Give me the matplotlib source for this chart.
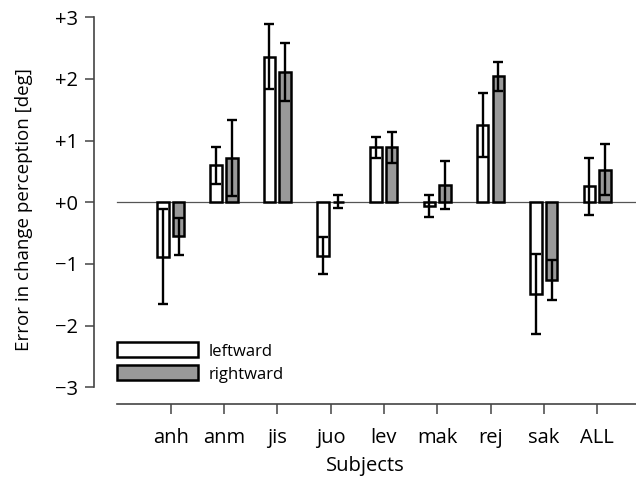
import matplotlib
matplotlib.use("Agg")
import matplotlib.pyplot as plt
import numpy as np

subjects = ["anh", "anm", "jis", "juo", "lev", "mak", "rej", "sak", "ALL"]
left_mean = [-0.88, 0.60, 2.36, -0.87, 0.89, -0.06, 1.25, -1.49, 0.26]
left_sd = [0.77, 0.30, 0.53, 0.30, 0.17, 0.18, 0.52, 0.65, 0.46]
right_mean = [-0.55, 0.72, 2.11, 0.01, 0.89, 0.28, 2.04, -1.26, 0.53]
right_sd = [0.30, 0.62, 0.47, 0.11, 0.25, 0.39, 0.24, 0.33, 0.41]
series_names = ["leftward", "rightward"]
yticks = [3, 2, 1, 0, -1, -2, -3]
ytick_labels = ["+3", "+2", "+1", "+0", "\u22121", "\u22122", "\u22123"]

plt.rcParams['font.family'] = ['Open Sans', 'DejaVu Sans']

fig = plt.figure(figsize=(6.36, 4.79), dpi=100)
ax = fig.add_axes([94/636, 75/479, 542/636, 389.8/479])

x = np.arange(len(subjects))
off = 0.147
w = 0.215
lw_edge = 1.8
spine_col = "#444444"

ax.axhline(0, xmin=(-1+1.44)/10.17, xmax=1, color="#555555", lw=0.9, zorder=1)

ax.bar(x - off, left_mean, w, color="white", edgecolor="black", linewidth=lw_edge,
       label=series_names[0], zorder=2)
ax.bar(x + off, right_mean, w, color="#999999", edgecolor="black", linewidth=lw_edge,
       label=series_names[1], zorder=2)
ax.errorbar(x - off, left_mean, yerr=left_sd, fmt="none", ecolor="black",
            elinewidth=1.7, capsize=3.4, capthick=1.7, zorder=3)
ax.errorbar(x + off, right_mean, yerr=right_sd, fmt="none", ecolor="black",
            elinewidth=1.7, capsize=3.4, capthick=1.7, zorder=3)

ax.set_xlim(-1.44, 8.73)
ax.set_ylim(-3.27, 3.05)

for s in ["top", "right"]:
    ax.spines[s].set_visible(False)
ax.spines["left"].set_bounds(-3, 3)
ax.spines["bottom"].set_bounds(-1, 8.73)
for s in ["left", "bottom"]:
    ax.spines[s].set_color(spine_col)
    ax.spines[s].set_linewidth(1.2)

ax.set_yticks(yticks)
ax.set_yticklabels(ytick_labels, fontsize=14.5)
ax.set_xticks(x)
ax.set_xticklabels(subjects, fontsize=14.5)
ax.tick_params(axis="y", length=6.5, width=1.1, color=spine_col, pad=5)
ax.tick_params(axis="x", length=7, width=1.1, color=spine_col, pad=10)

ax.set_ylabel("Error in change perception [deg]", fontsize=13.5, labelpad=16)
ax.set_xlabel("Subjects", fontsize=14.5, labelpad=6)

ax.legend(loc="lower left", bbox_to_anchor=(0.042, 0.055), frameon=False,
          fontsize=12, handlelength=4.9, handleheight=1.0, handletextpad=0.6,
          labelspacing=0.35, borderpad=0, borderaxespad=0)

fig.savefig("out.png", dpi=100)
